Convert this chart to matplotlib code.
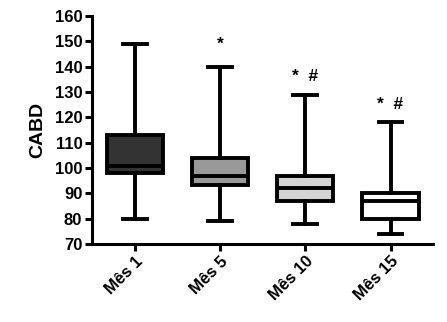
import numpy as np
import matplotlib.pyplot as plt

plt.rcParams['font.family'] = ['Liberation Sans', 'DejaVu Sans']
plt.rcParams['font.weight'] = 'bold'

# box plot summary values
labels = ['Mês 1', 'Mês 5', 'Mês 10', 'Mês 15']
whislo = [80, 79, 78, 74]
q1 = [98, 93.5, 87, 80]
med = [101, 97, 92, 87]
q3 = [113, 104, 97, 90]
whishi = [149, 140, 129, 118]
colors = ['#333333', '#999999', '#d4d4d4', '#ffffff']
marks = ['', '*', '*  #', '*  #']
mark_y = [0, 149, 136, 125]

stats = []
for i in range(len(labels)):
    stats.append(dict(label=labels[i], whislo=whislo[i], q1=q1[i], med=med[i],
                      q3=q3[i], whishi=whishi[i], fliers=[]))

fig = plt.figure(figsize=(4.47, 3.22), dpi=100)
ax = fig.add_axes([0.206, 0.242, 0.763, 0.708])

lw = 2.8
bp = ax.bxp(stats, positions=[1, 2, 3, 4], widths=0.66, patch_artist=True,
            showfliers=False,
            boxprops=dict(linewidth=lw, edgecolor='black'),
            medianprops=dict(linewidth=lw, color='black'),
            whiskerprops=dict(linewidth=lw, color='black'),
            capprops=dict(linewidth=lw, color='black'),
            capwidths=0.28)
for patch, c in zip(bp['boxes'], colors):
    patch.set_facecolor(c)

for i in range(len(labels)):
    if marks[i]:
        ax.text(i + 1, mark_y[i], marks[i], ha='center', va='center',
                fontsize=12.5, fontweight='bold')

ax.set_xlim(0.5, 4.5)
ax.set_ylim(70, 160)
ax.set_yticks(np.arange(70, 161, 10))
ax.set_xticks([1, 2, 3, 4])
ax.set_xticklabels(labels, rotation=45, ha='right', rotation_mode='anchor')
ax.set_ylabel('CABD', fontsize=14, fontweight='bold', labelpad=6)
ax.spines['top'].set_visible(False)
ax.spines['right'].set_visible(False)
ax.spines['left'].set_linewidth(2.2)
ax.spines['bottom'].set_linewidth(2.2)
ax.tick_params(width=2.2, length=5, labelsize=12, pad=2)
for t in ax.get_xticklabels() + ax.get_yticklabels():
    t.set_fontweight('bold')

fig.savefig('out.png', dpi=100)
